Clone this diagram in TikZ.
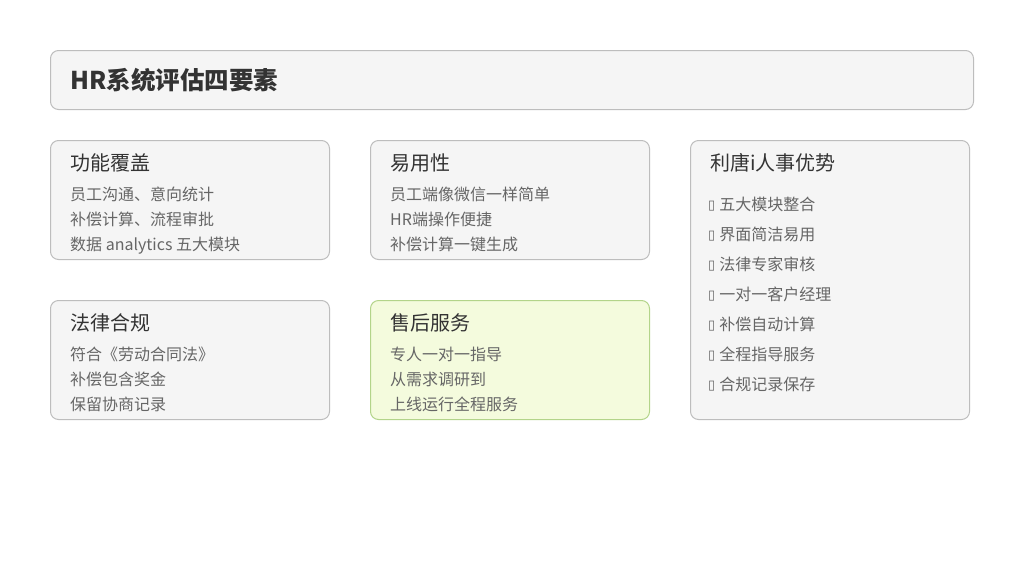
\documentclass[tikz,border=0pt]{standalone}
\usepackage{fontspec}
\setmainfont{Noto Sans CJK SC}
\newfontfamily\symfont{DejaVu Sans}
\usetikzlibrary{positioning}
\definecolor{cardfill}{HTML}{F5F5F5}
\definecolor{carddraw}{HTML}{BDBDBD}
\definecolor{greenfill}{HTML}{F4FBDD}
\definecolor{greendraw}{HTML}{B3D48A}
\definecolor{headtext}{HTML}{333333}
\definecolor{bodytext}{HTML}{666666}
\newcommand{\tofu}{\raisebox{1pt}{\symfont\fontsize{13}{13}\selectfont ▯}}
\tikzset {
  % rounded panels
  card/.style = {draw=carddraw, fill=cardfill, rounded corners=8pt, line width=1pt,
                 anchor=north west, inner sep=0pt},
  highlight/.style = {draw=greendraw, fill=greenfill},
  % texts inside the panels
  title/.style = {anchor=west, inner sep=0pt, text=headtext, text height=20pt, text depth=4pt,
                  yshift=-1pt, font=\bfseries\fontsize{24.5}{29}\selectfont},
  head/.style = {anchor=west, inner sep=0pt, text=headtext, text height=16pt, text depth=4pt,
                 yshift=-1.5pt, font=\fontsize{20}{24}\selectfont},
  line/.style = {anchor=west, inner sep=0pt, text=bodytext, text height=13pt, text depth=3pt,
                 yshift=-1.5pt, font=\fontsize{16}{19}\selectfont},
}

\begin{document}
\begin{tikzpicture}[x=1pt, y=-1pt]
        \useasboundingbox[fill=white] (0,0) rectangle (1024,576);

        % header bar
        \node[card, minimum width=923pt, minimum height=59pt] (top) at (50,50) {};
        \node[title] (toptext) at (70,80) {HR系统评估四要素};

        % first row
        \node[card, minimum width=279pt, minimum height=119pt] (func) at (50,140) {};
        \node[card, minimum width=279pt, minimum height=119pt] (ease) at (370,140) {};
        \node[card, minimum width=279pt, minimum height=279pt] (adv) at (690,140) {};

        % second row
        \node[card, minimum width=279pt, minimum height=119pt] (law) at (50,300) {};
        \node[card, highlight, minimum width=279pt, minimum height=119pt] (serv) at (370,300) {};

        \node[head] (funchead) at (70,163) {功能覆盖};
        \node[line] (func1) at (70,194) {员工沟通、意向统计};
        \node[line] (func2) at (70,219) {补偿计算、流程审批};
        \node[line] (func3) at (70,244) {数据 analytics 五大模块};

        \node[head] (easehead) at (390,163) {易用性};
        \node[line] (ease1) at (390,194) {员工端像微信一样简单};
        \node[line] (ease2) at (390,219) {HR端操作便捷};
        \node[line] (ease3) at (390,244) {补偿计算一键生成};

        \node[head] (lawhead) at (70,323) {法律合规};
        \node[line] (law1) at (70,354) {符合《劳动合同法》};
        \node[line] (law2) at (70,379) {补偿包含奖金};
        \node[line] (law3) at (70,404) {保留协商记录};

        \node[head] (servhead) at (390,323) {售后服务};
        \node[line] (serv1) at (390,354) {专人一对一指导};
        \node[line] (serv2) at (390,379) {从需求调研到};
        \node[line] (serv3) at (390,404) {上线运行全程服务};

        \node[head] (advhead) at (710,163) {利唐i人事优势};
        \foreach \txt [count=\i] in {五大模块整合, 界面简洁易用, 法律专家审核,
            一对一客户经理, 补偿自动计算, 全程指导服务, 合规记录保存}
          \node[line] (adv\i) at (708,174+30*\i) {\tofu\hspace{4pt}\txt};
      \end{tikzpicture}
\end{document}
